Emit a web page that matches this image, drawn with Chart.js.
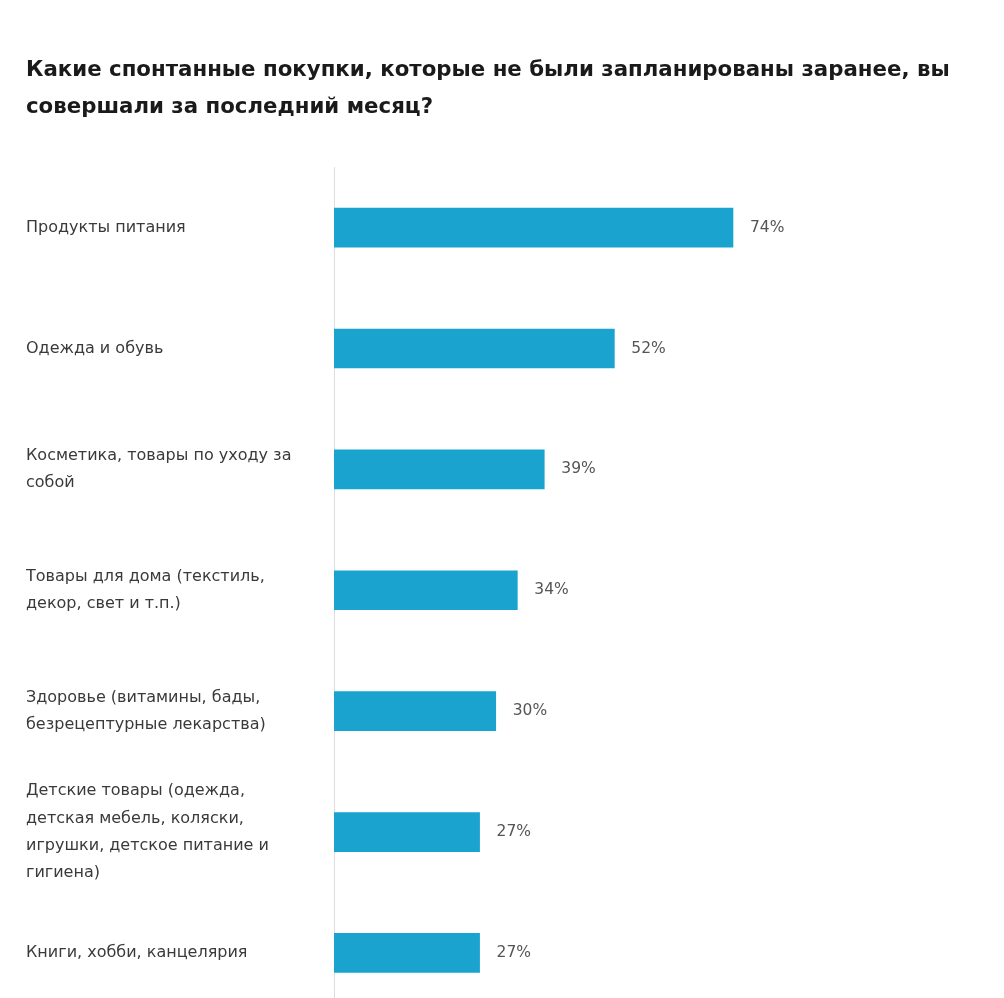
<!DOCTYPE html>
<html>
<head>
<meta charset="utf-8">
<script src="https://cdn.jsdelivr.net/npm/chart.js@4.4.0/dist/chart.umd.min.js"></script>
<style>
  html, body { margin: 0; padding: 0; background: #fff; overflow: hidden; }
  #wrap { position: relative; width: 1004px; height: 1030px; }
</style>
</head>
<body>
<div id="wrap"><canvas id="chartBuy"></canvas></div>
<script>
var titleLines = [
    "Какие спонтанные покупки, которые не были запланированы заранее, вы",
    "совершали за последний месяц?",
];

var categories = [
    ["Продукты питания"],
    ["Одежда и обувь"],
    ["Косметика, товары по уходу за", "собой"],
    ["Товары для дома (текстиль,", "декор, свет и т.п.)"],
    ["Здоровье (витамины, бады,", "безрецептурные лекарства)"],
    ["Детские товары (одежда,", "детская мебель, коляски,", "игрушки, детское питание и", "гигиена)"],
    ["Книги, хобби, канцелярия"],
];

var values = [74, 52, 39, 34, 30, 27, 27];

var fontName = "'DejaVu Sans', sans-serif";

// value labels to the right of every bar
var valueLabels = {
    id: "valueLabels",
    afterDatasetsDraw: function (chart) {
        var ctx = chart.ctx;
        var meta = chart.getDatasetMeta(0);
        ctx.save();
        ctx.font = "15.5px " + fontName;
        ctx.fillStyle = "#555";
        ctx.textAlign = "left";
        ctx.textBaseline = "middle";
        meta.data.forEach(function (bar, i) {
            ctx.fillText(values[i] + "%", bar.x + 17, bar.y);
        });
        ctx.restore();
    },
};

var ctxBuy = document.getElementById("chartBuy").getContext("2d");
var chart1 = new Chart(ctxBuy, {
    type: "bar",
    data: {
        labels: categories,
        datasets: [{
            data: values,
            backgroundColor: "#1aa3ce",
            barThickness: 39,
        }],
    },
    options: {
        indexAxis: "y",
        responsive: true,
        maintainAspectRatio: false,
        animation: false,
        layout: { padding: { left: 26, right: 23, top: 0, bottom: 0 } },
        plugins: {
            legend: { display: false },
            tooltip: { enabled: false },
            title: {
                display: true,
                text: titleLines,
                align: "start",
                color: "#1a1a1a",
                font: { family: fontName, size: 21.3, weight: "bold", lineHeight: 1.74 },
                padding: { top: 52, bottom: 41 },
            },
        },
        scales: {
            x: {
                display: false,
                min: 0,
                max: 120,
            },
            y: {
                grid: { display: false },
                border: { display: true, color: "#dddddd", width: 1 },
                afterFit: function (scale) { scale.width = 308; },
                ticks: {
                    crossAlign: "far",
                    color: "#3a3a3a",
                    font: { family: fontName, size: 16, lineHeight: 1.7 },
                },
            },
        },
    },
    plugins: [valueLabels],
});
</script>
</body>
</html>
